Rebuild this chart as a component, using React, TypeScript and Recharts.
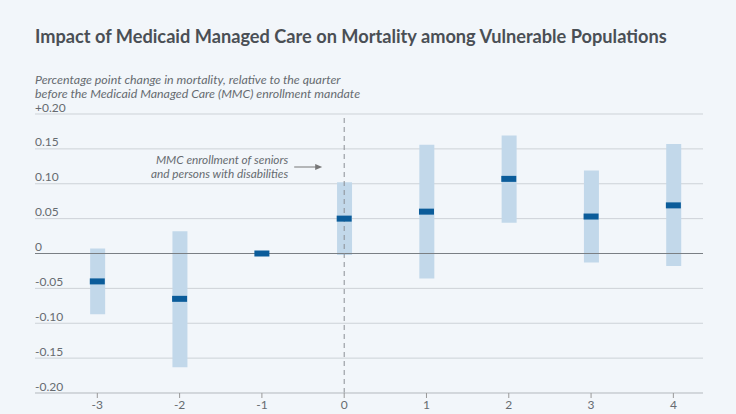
import React from "react";
import {
  ComposedChart,
  Bar,
  Scatter,
  XAxis,
  YAxis,
  CartesianGrid,
  ReferenceLine,
} from "recharts";

// quarters relative to the MMC enrollment mandate
const QUARTERS = [-3, -2, -1, 0, 1, 2, 3, 4];
// point estimates (pp change in mortality)
const ESTIMATES = [-0.04, -0.065, 0.0, 0.05, 0.06, 0.107, 0.053, 0.069];
// 95% confidence intervals, null for the reference quarter
const CI_LOW = [-0.087, -0.163, null, -0.002, -0.036, 0.044, -0.013, -0.018];
const CI_HIGH = [0.007, 0.032, null, 0.102, 0.156, 0.169, 0.119, 0.157];
const Y_TICKS = [-0.2, -0.15, -0.1, -0.05, 0, 0.05, 0.1, 0.15, 0.2];
const Y_LABELS = ["-0.20", "-0.15", "-0.10", "-0.05", "0", "0.05", "0.10", "0.15", "+0.20"];

const BG = "#f2f6fa";
const DARK = "#0b5c9a";
const LIGHT = "#c2d8ea";
const TEXT = "#666b70";
const FONT = "Lato, 'Open Sans', sans-serif";

if (typeof document !== "undefined") document.body.style.margin = "0";

const data = QUARTERS.map((q, i) => ({
  q,
  est: ESTIMATES[i],
  ci: CI_LOW[i] === null ? null : [CI_LOW[i], CI_HIGH[i]],
}));

function renderYTick(props: any) {
  const idx = Y_TICKS.findIndex((t) => Math.abs(t - props.payload.value) < 1e-9);
  return (
    <text
      key={`yt-${idx}`}
      x={35}
      y={props.y - 2.5}
      fill={TEXT}
      fontSize={12}
      fontFamily={FONT}
      textAnchor="start"
    >
      {Y_LABELS[idx]}
    </text>
  );
}

function PointMark(props: any) {
  const { cx, cy } = props;
  return <rect x={cx - 7.5} y={cy - 3} width={15} height={6} fill={DARK} />;
}

function MandateLabel(props: any) {
  const { x } = props.viewBox;
  return (
    <g fontFamily={FONT} fontStyle="italic" fontSize={11.8} fill={TEXT}>
      <text x={x - 56} y={164} textAnchor="end">MMC enrollment of seniors</text>
      <text x={x - 56} y={178} textAnchor="end">and persons with disabilities</text>
      <line x1={x - 50} y1={167} x2={x - 26} y2={167} stroke="#777" strokeWidth={1} />
      <polygon points={`${x - 22},167 ${x - 29},164 ${x - 29},170`} fill="#777" />
    </g>
  );
}

export default function App() {
  return (
    <div style={{ position: "relative", width: 736, height: 414, background: BG, overflow: "hidden" }}>
      <div
        style={{
          position: "absolute",
          left: 35,
          top: 25,
          fontFamily: FONT,
          fontWeight: 700,
          fontSize: 18.2,
          color: "#4a4f55",
          whiteSpace: "nowrap",
        }}
      >
        Impact of Medicaid Managed Care on Mortality among Vulnerable Populations
      </div>
      <div
        style={{
          position: "absolute",
          left: 35,
          top: 73,
          fontFamily: FONT,
          fontStyle: "italic",
          fontSize: 12.4,
          lineHeight: "14px",
          color: TEXT,
          whiteSpace: "nowrap",
        }}
      >
        Percentage point change in mortality, relative to the quarter
        <br />
        before the Medicaid Managed Care (MMC) enrollment mandate
      </div>
      <ComposedChart
        width={736}
        height={414}
        data={data}
        margin={{ top: 114, right: 33, bottom: 0, left: 34 }}
        style={{ position: "absolute", left: 0, top: 0 }}
      >
        <CartesianGrid vertical={false} stroke="#cdd2d7" />
        <XAxis
          dataKey="q"
          type="number"
          domain={[-3.757, 4.36]}
          ticks={QUARTERS}
          axisLine={{ stroke: "#c5cacf" }}
          tickLine={{ stroke: "#999" }}
          tickSize={5}
          tick={{ fill: TEXT, fontSize: 12, fontFamily: FONT }}
          height={21}
          interval={0}
        />
        <YAxis
          type="number"
          domain={[-0.2, 0.2]}
          ticks={Y_TICKS}
          width={1}
          axisLine={false}
          tickLine={false}
          tick={renderYTick}
          interval={0}
        />
        <ReferenceLine y={0} stroke="#7a7f84" strokeWidth={1} />
        <Bar dataKey="ci" fill={LIGHT} barSize={15} isAnimationActive={false} />
        <ReferenceLine
          x={0}
          stroke="#8a8f94"
          strokeDasharray="5 4"
          label={<MandateLabel />}
        />
        <Scatter dataKey="est" shape={<PointMark />} isAnimationActive={false} />
      </ComposedChart>
    </div>
  );
}
